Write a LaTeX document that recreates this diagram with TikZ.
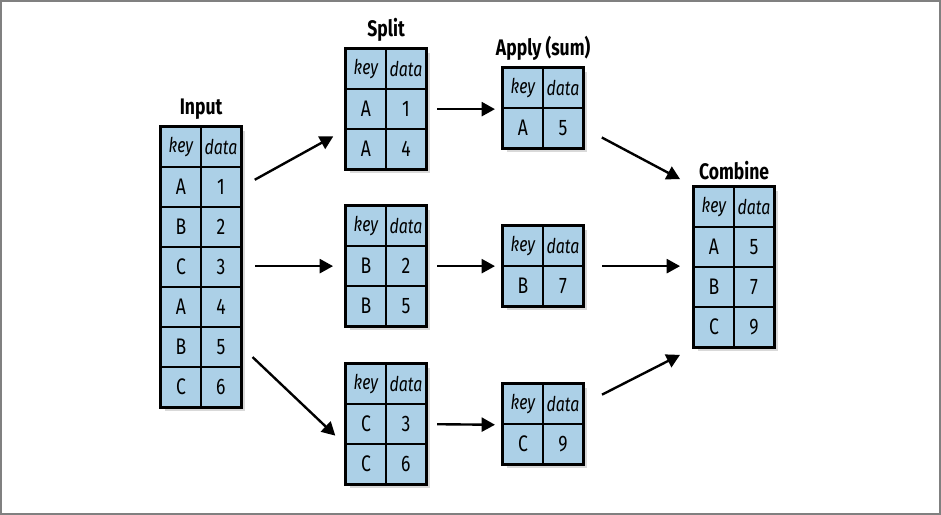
\documentclass[tikz,border=0pt]{standalone}
\usepackage{fontspec}
\setmainfont{Fira Sans}[FakeStretch=0.78]
\usepackage{tikz}
\usetikzlibrary{positioning,calc,shadows,arrows.meta}
\definecolor{cellblue}{RGB}{172,208,231}
\definecolor{framegray}{RGB}{128,128,128}

\tikzset{
  tablebox/.style={draw, line width=1.6pt, fill=cellblue, minimum width=2cm,
    inner sep=0pt, anchor=north west,
    drop shadow={opacity=0.3, shadow xshift=2.5pt, shadow yshift=-2.5pt}},
  cell/.style={draw, line width=1.3pt, minimum width=1cm, minimum height=1cm,
    inner sep=0pt, anchor=north west, font=\fontsize{16}{18}\selectfont},
  headcell/.style={cell, font=\fontsize{14.5}{17}\selectfont\itshape},
  title/.style={font=\fontsize{16}{18}\selectfont\bfseries},
  flow/.style={line width=1.7pt, -{Triangle[length=9.5pt,width=10pt]}}
}

% one table: name, top left corner, number of rows, key/data pairs
\newcommand{\datatable}[4]{%
  \node[tablebox, minimum height=#3 cm] (#1) at (#2) {};
  \node[headcell] (#1-0-k) at (#1.north west) {key};
  \node[headcell] (#1-0-v) at ($(#1.north west)+(1,0)$) {data};
  \foreach \k/\v [count=\i] in {#4} {
    \node[cell] (#1-\i-k) at ($(#1.north west)+(0,\i)$) {\k};
    \node[cell] (#1-\i-v) at ($(#1.north west)+(1,\i)$) {\v};
  }
  \draw[line width=1.6pt] (#1.north west) rectangle (#1.south east);
}

\begin{document}
\begin{tikzpicture}[y=-1cm]
    \useasboundingbox (0,0) rectangle (23.525,12.875);
    \draw[framegray, line width=1.5pt] (0.035,0.035) rectangle (23.49,12.84);

    % input table
    \datatable{input}{4,3.15}{7}{A/1,B/2,C/3,A/4,B/5,C/6}
    \node[title, above=1pt of input] (inputtitle) {Input};

    % split tables
    \datatable{splitA}{8.625,1.2}{3}{A/1,A/4}
    \datatable{splitB}{8.625,5.125}{3}{B/2,B/5}
    \datatable{splitC}{8.625,9.075}{3}{C/3,C/6}
    \node[title, above=1pt of splitA] (splittitle) {Split};

    % apply tables
    \datatable{applyA}{12.55,1.675}{2}{A/5}
    \datatable{applyB}{12.55,5.625}{2}{B/7}
    \datatable{applyC}{12.55,9.575}{2}{C/9}
    \node[title, above=1pt of applyA] (applytitle) {Apply (sum)};

    % combine table
    \datatable{combine}{17.325,4.65}{4}{A/5,B/7,C/9}
    \node[title, above=1pt of combine] (combinetitle) {Combine};

    % input to split
    \draw[flow, shorten <=10.5pt, shorten >=9.5pt] (input-1-v.east) -- (splitA-1-k.south west);
    \draw[flow, shorten <=9.2pt, shorten >=8.5pt] (splitB.west -| input.east) -- (splitB.west);
    \draw[flow, shorten <=10.5pt, shorten >=9.5pt] (input-5-v.east) -- (splitC-1-k.south west);

    % split to apply
    \draw[flow, shorten <=7pt, shorten >=5pt] (splitA.east) -- (splitA.east -| applyA.west);
    \draw[flow, shorten <=7pt, shorten >=5pt] (splitB.east) -- (applyB.west);
    \draw[flow, shorten <=7pt, shorten >=5pt] (splitC.east) -- (applyC-0-k.south west);

    % apply to combine
    \draw[flow, shorten <=14.5pt, shorten >=10.4pt] (applyA-1-v.east) -- (combine.north west);
    \draw[flow, shorten <=12.8pt, shorten >=9.2pt] (applyB.east) -- (applyB.east -| combine.west);
    \draw[flow, shorten <=14.5pt, shorten >=10.4pt] (applyC-0-v.east) -- (combine.south west);
\end{tikzpicture}
\end{document}
